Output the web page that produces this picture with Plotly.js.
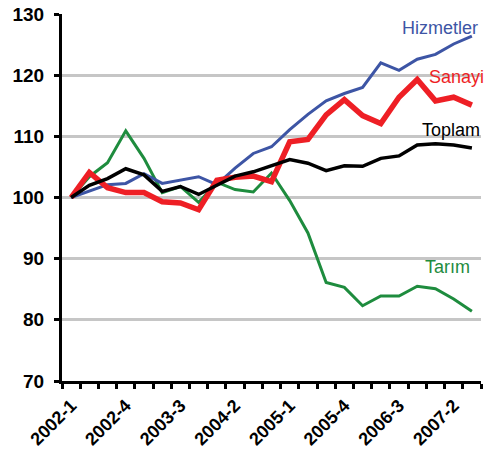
<!DOCTYPE html>
<html>
<head>
<meta charset="utf-8">
<script src="https://cdn.plot.ly/plotly-3.0.1.min.js"></script>
<style>
  html, body { margin: 0; padding: 0; background: #fff; }
  #chart { width: 493px; height: 466px; }
</style>
</head>
<body>
<div id="chart"></div>
<script>
var quarters = ['2002-1','2002-2','2002-3','2002-4','2003-1','2003-2','2003-3','2003-4',
  '2004-1','2004-2','2004-3','2004-4','2005-1','2005-2','2005-3','2005-4',
  '2006-1','2006-2','2006-3','2006-4','2007-1','2007-2','2007-3'];
var tickLabels = ['2002-1','2002-4','2003-3','2004-2','2005-1','2005-4','2006-3','2007-2'];

var hizmetler = [100, 101, 102.1, 102.3, 103.9, 102.3, 102.8, 103.4, 102.1, 104.8, 107.2, 108.3,
  111.1, 113.6, 115.8, 117, 118, 122, 120.8, 122.6, 123.4, 125.1, 126.4];
var sanayi = [100, 104.1, 101.6, 100.8, 100.8, 99.3, 99.1, 98, 102.8, 103.3, 103.5, 102.6,
  109.1, 109.5, 113.5, 116, 113.4, 112.1, 116.4, 119.3, 115.8, 116.4, 115.1];
var toplam = [100, 102, 103.1, 104.7, 103.7, 101, 101.8, 100.5, 102, 103.5, 104.2, 105.2,
  106.2, 105.6, 104.4, 105.2, 105.1, 106.4, 106.8, 108.6, 108.8, 108.6, 108.1];
var tarim = [100, 103.4, 105.7, 110.9, 106.4, 100.8, 101.8, 99.2, 102.5, 101.3, 100.9, 104,
  99.5, 94.2, 86.1, 85.3, 82.3, 83.9, 83.9, 85.5, 85.1, 83.4, 81.4];

var xIdx = quarters.map(function(q, i) { return i; });
var tickIdx = tickLabels.map(function(t) { return quarters.indexOf(t); });
var last = quarters.length - 1;
var fontName = 'Liberation Sans, Arial, sans-serif';

function line(y, name, color, width) {
  return {
    x: xIdx,
    y: y,
    name: name,
    type: 'scatter',
    mode: 'lines',
    line: {color: color, width: width},
    hoverinfo: 'skip'
  };
}

var traces = [
  line(tarim, 'Tarım', '#1e8c3e', 3),
  line(hizmetler, 'Hizmetler', '#3d55a5', 3),
  line(sanayi, 'Sanayi', '#ee1f25', 5.5),
  line(toplam, 'Toplam', '#000000', 3.5)
];

// series names written next to the line ends
function label(text, color, x, y) {
  return {
    text: text, x: x, y: y, xref: 'paper', yref: 'paper',
    xanchor: 'right', yanchor: 'middle', showarrow: false,
    font: {family: fontName, size: 18, color: color}
  };
}

var layout = {
  width: 493,
  height: 466,
  margin: {l: 62, r: 12, t: 14, b: 85},
  paper_bgcolor: '#ffffff',
  plot_bgcolor: '#ffffff',
  showlegend: false,
  font: {family: fontName, color: '#000'},
  xaxis: {
    range: [-0.5, last + 0.5],
    tickmode: 'array',
    tickvals: tickIdx,
    ticktext: tickLabels,
    tickangle: -45,
    ticks: '',
    ticklabelstandoff: 4,
    tickfont: {size: 18, weight: 'bold', color: '#000'},
    showgrid: false,
    zeroline: false,
    showline: true,
    linecolor: '#000',
    linewidth: 3,
    minor: {
      tick0: -0.5,
      dtick: 1,
      ticks: 'outside',
      ticklen: 5,
      tickwidth: 3,
      tickcolor: '#000',
      showgrid: false
    }
  },
  yaxis: {
    range: [70, 130],
    dtick: 10,
    ticks: 'outside',
    ticklen: 5,
    tickwidth: 3,
    tickcolor: '#000',
    ticklabelstandoff: 6,
    tickfont: {size: 19, weight: 'bold', color: '#000'},
    showgrid: true,
    gridcolor: '#c6c6c6',
    gridwidth: 3,
    zeroline: false,
    showline: true,
    linecolor: '#000',
    linewidth: 3
  },
  annotations: [
    label('Hizmetler', '#3d55a5', 0.998, 0.962),
    label('Sanayi', '#ee1f25', 1.012, 0.828),
    label('Toplam', '#000000', 1.002, 0.683),
    label('Tarım', '#1e8c3e', 0.978, 0.31)
  ]
};

Plotly.newPlot('chart', traces, layout, {staticPlot: true, displayModeBar: false});
</script>
</body>
</html>
